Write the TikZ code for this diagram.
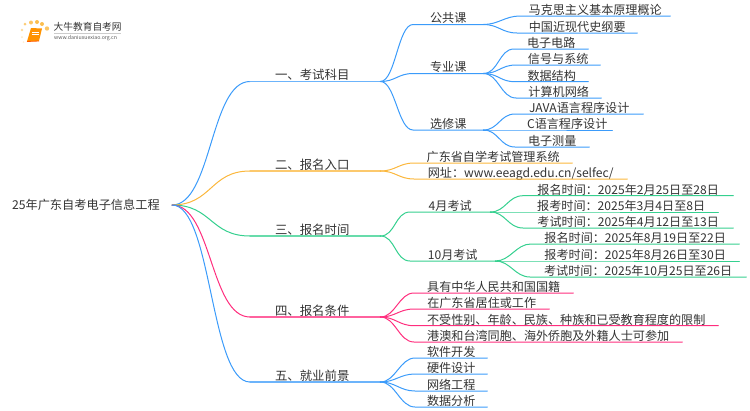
\documentclass[tikz,border=0pt]{standalone}
\usepackage{fontspec}
\setmainfont{Noto Sans CJK SC}
\definecolor{mapblue}{HTML}{3B9BFA}
\definecolor{maporange}{HTML}{FBB73C}
\definecolor{mapgreen}{HTML}{35D08F}
\definecolor{mappink}{HTML}{FF2E7E}
\definecolor{maptext}{HTML}{333333}
\tikzset{every node/.style={font=\fontsize{12.1}{14}\selectfont,text=maptext,inner sep=0pt},
  topic/.style={anchor=south west,text height=9pt,text depth=1.5pt},
  link/.style={line width=1pt,line cap=round},
  bar/.style={line width=1.5pt,line cap=round}}
\begin{document}
\begin{tikzpicture}[x=1pt,y=-1pt]
  \path[use as bounding box] (0,0) rectangle (750,410);
  % logo
  \foreach \x/\y/\r/\op in {25/24/1.5/.7,31/22.5/2/.8,37/22/2/.9,42/24/2/.9,47/28.5/2.2/.8,
      22/30/1.3/.5,22/37/1/.3,23.5/42/1/.2}
    \fill[maporange,opacity=\op] (\x,\y) circle (\r);
  \fill[orange!85!yellow] (31,28) -- (42,28.5) -- (39,41) -- (27,41.5) -- cycle;
  \draw[orange!70!red,line width=0.8pt] (27,41.5) -- (39,41);
  \draw[white,line width=0.5pt] (32,32) -- (39,32) (31.5,34.5) -- (38.5,34.5);
  \node[anchor=west,font=\fontsize{9.7}{11}\selectfont] (logoname) at (53.5,27) {大牛教育自考网};
  \draw[black!20,line width=0.4pt] (54,33.5) -- (121,33.5);
  \node[anchor=west,font=\fontsize{5.2}{6}\selectfont,text=black!65] (logourl) at (54,38.5) {www.daniuxuexiao.org.cn};
  % root
  \node[anchor=east,inner xsep=12pt,font=\fontsize{12.2}{14}\selectfont] (root) at (172,205) {25年广东自考电子信息工程};
  % main branches
  \foreach \name/\y/\col/\txt in {kemu/81.5/mapblue/一、考试科目,rukou/171/maporange/二、报名入口,
      shijian/236/mapgreen/三、报名时间,tiaojian/317/mappink/四、报名条件,qianjing/382/mapblue/五、就业前景} {
    \node[topic,minimum width=130pt,font=\fontsize{12.4}{14}\selectfont] (\name) at (250,\y) {\txt\kern6pt};
    \draw[link,\col] (root.east) .. controls +(40,0) and +(-40,0) .. (\name.south west);
    \draw[bar,\col!75] (\name.south west) -- (\name.south east);
  }
  % second level
  \foreach \name/\up/\y/\xa/\xb/\col/\txt in {gonggong/kemu/24.5/413/483/mapblue/公共课,
      zhuanye/kemu/73.5/413/483/mapblue/专业课,xuanxiu/kemu/130/413/483/mapblue/选修课,
      april/shijian/212/410/490/mapgreen/4月考试,october/shijian/261/410/495/mapgreen/10月考试} {
    \node[topic,minimum width={(\xb-\xa)*1pt}] (\name) at (\xa,\y) {\txt};
    \draw[link,\col] (\up.south east) .. controls +(15,0) and +(-15,0) .. (\name.south west) -- (\name.south east);
  }
  % leaves
  \foreach \name/\up/\y/\xa/\xb/\col/\txt in {
      makesi/gonggong/16/520/670/mapblue/马克思主义基本原理概论,
      jindai/gonggong/33/517/637/mapblue/中国近现代史纲要,
      dianlu/zhuanye/49/514/588/mapblue/电子电路,
      xinhao/zhuanye/65/516/600/mapblue/信号与系统,
      shuju/zhuanye/81.7/515/588/mapblue/数据结构,
      wangluo/zhuanye/98/516/601/mapblue/计算机网络,
      java/xuanxiu/114/515/643/mapblue/JAVA语言程序设计,
      clang/xuanxiu/130/522/612/mapblue/C语言程序设计,
      celiang/xuanxiu/147/515/589/mapblue/电子测量,
      xitong/rukou/163/414/572/maporange/广东省自学考试管理系统,
      wangzhi/rukou/179/414/627/maporange/{网址：www.eeagd.edu.cn/selfec/},
      aming/april/195.7/523/733/mapgreen/报名时间：2025年2月25日至28日,
      akao/april/212/524/718/mapgreen/报考时间：2025年3月4日至8日,
      ashi/april/228/523/733/mapgreen/考试时间：2025年4月12日至13日,
      oming/october/244/531/739/mapgreen/报名时间：2025年8月19日至22日,
      okao/october/261/531/739/mapgreen/报考时间：2025年8月26日至30日,
      oshi/october/277/530/746/mapgreen/考试时间：2025年10月25日至26日,
      guoji/tiaojian/293/414/573/mappink/具有中华人民共和国国籍,
      juzhu/tiaojian/309/414/549/mappink/在广东省居住或工作,
      xianzhi/tiaojian/325.7/414/718/mappink/不受性别、年龄、民族、种族和已受教育程度的限制,
      gangao/tiaojian/342/414/682/mappink/港澳和台湾同胞、海外侨胞及外籍人士可参加,
      ruanjian/qianjing/358/415/487/mapblue/软件开发,
      yingjian/qianjing/374/415/487/mapblue/硬件设计,
      gongcheng/qianjing/391/415/487/mapblue/网络工程,
      fenxi/qianjing/407/415/487/mapblue/数据分析} {
    \node[topic,minimum width={(\xb-\xa)*1pt}] (\name) at (\xa,\y) {\txt};
    \draw[link,\col] (\up.south east) .. controls +(15,0) and +(-15,0) .. (\name.south west) -- (\name.south east);
  }
\end{tikzpicture}
\end{document}
